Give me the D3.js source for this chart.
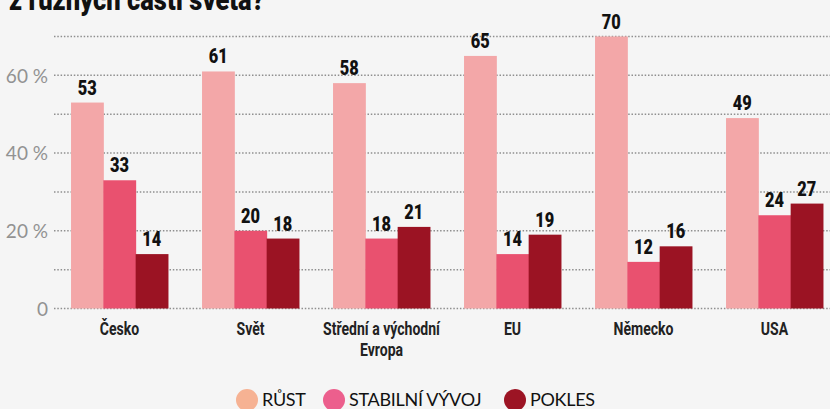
<!DOCTYPE html>
<html>
<head>
<meta charset="utf-8">
<script src="https://cdn.jsdelivr.net/npm/d3@7"></script>
<style>
  body { margin: 0; background: #f5f5f5; }
  svg { display: block; }
</style>
</head>
<body>
<script>
var categories = ["Česko", "Svět", "Střední a východní|Evropa", "EU", "Německo", "USA"];
var seriesNames = ["RŮST", "STABILNÍ VÝVOJ", "POKLES"];
var rust = [53, 61, 58, 65, 70, 49];
var stabilni = [33, 20, 18, 14, 12, 24];
var pokles = [14, 18, 21, 19, 16, 27];
var yTicks = [0, 20, 40, 60];
var yGrid = [0, 10, 20, 30, 40, 50, 60, 70];

var barColors = ["#f3a7a8", "#e9516f", "#9b1323"],
    legendColors = ["#f6b293", "#ec5f8d", "#9c1424"];

var width = 830,
    height = 409,
    condensed = "Roboto, sans-serif",
    squeeze = 0.78; // horizontal squeeze to fake a condensed face

var series = [rust, stabilni, pokles];

var svg = d3.select("body")
    .append("svg")
    .attr("width", width)
    .attr("height", height);

// title, cut off at the top like in the original
svg.append("text")
    .attr("transform", "translate(9,10) scale(0.85,1)")
    .style("font-family", condensed)
    .style("font-weight", 900)
    .style("font-size", "30px")
    .style("fill", "#111")
    .text("z různých částí světa?");

var x = d3.scaleBand()
    .domain(categories)
    .range([54, 840])
    .paddingInner(0.26)
    .paddingOuter(0.13);

var xs = d3.scaleBand()
    .domain(d3.range(series.length))
    .range([0, x.bandwidth()]);

var y = d3.scaleLinear()
    .domain([0, 70])
    .range([308.5, 36.5]);

// dotted grid
svg.append("g")
    .selectAll("line")
    .data(yGrid)
    .enter()
    .append("line")
    .attr("x1", 54)
    .attr("x2", width)
    .attr("y1", function(d) { return y(d); })
    .attr("y2", function(d) { return y(d); })
    .style("stroke", "#8f8f8f")
    .style("stroke-width", 1.5)
    .style("stroke-dasharray", "1.5,1.8");

// y axis labels
var yAxis = d3.axisLeft(y)
    .tickValues(yTicks)
    .tickSize(0)
    .tickPadding(0)
    .tickFormat(function(d) { return d === 0 ? "0" : d + " %"; });

var ya = svg.append("g")
    .attr("transform", "translate(48,0)")
    .call(yAxis);
ya.select(".domain").remove();
ya.selectAll("text")
    .attr("dy", "0.36em")
    .style("font-family", "Lato, sans-serif")
    .style("font-size", "19px")
    .style("fill", "#929292");

// bars
var groups = svg.append("g")
    .selectAll("g")
    .data(categories)
    .enter()
    .append("g")
    .attr("transform", function(d) { return "translate(" + x(d) + ",0)"; });

function cells(d, i) {
    return series.map(function(s, j) { return { s: j, v: s[i] }; });
}

groups.selectAll("rect")
    .data(cells)
    .enter()
    .append("rect")
    .attr("x", function(d) { return xs(d.s); })
    .attr("width", xs.bandwidth() + 0.5)
    .attr("y", function(d) { return y(d.v); })
    .attr("height", function(d) { return y(0) - y(d.v); })
    .style("fill", function(d) { return barColors[d.s]; });

groups.selectAll("text.val")
    .data(cells)
    .enter()
    .append("text")
    .attr("class", "val")
    .attr("transform", function(d) {
        return "translate(" + (xs(d.s) + xs.bandwidth() / 2) + "," + (y(d.v) - 8) + ") scale(" + squeeze + ",1)";
    })
    .attr("text-anchor", "middle")
    .style("font-family", condensed)
    .style("font-weight", 900)
    .style("font-size", "21px")
    .style("fill", "#111")
    .text(function(d) { return d.v; });

// category labels
groups.append("text")
    .attr("transform", "translate(" + (x.bandwidth() / 2) + ",335) scale(" + squeeze + ",1)")
    .attr("text-anchor", "middle")
    .style("font-family", condensed)
    .style("font-weight", 700)
    .style("font-size", "18px")
    .style("fill", "#222")
    .selectAll("tspan")
    .data(function(d) { return d.split("|"); })
    .enter()
    .append("tspan")
    .attr("x", 0)
    .attr("dy", function(d, i) { return i === 0 ? 0 : 21; })
    .text(function(d) { return d; });

// legend
var legendX = [247, 334, 515];
var legend = svg.append("g")
    .selectAll("g")
    .data(seriesNames)
    .enter()
    .append("g")
    .attr("transform", function(d, i) { return "translate(" + legendX[i] + ",400)"; });

legend.append("circle")
    .attr("r", 11)
    .style("fill", function(d, i) { return legendColors[i]; });

legend.append("text")
    .attr("x", 15)
    .attr("dy", "0.36em")
    .style("font-family", "Lato, sans-serif")
    .style("font-size", "18px")
    .style("letter-spacing", "-0.3px")
    .style("fill", "#111")
    .text(function(d) { return d; });
</script>
</body>
</html>
